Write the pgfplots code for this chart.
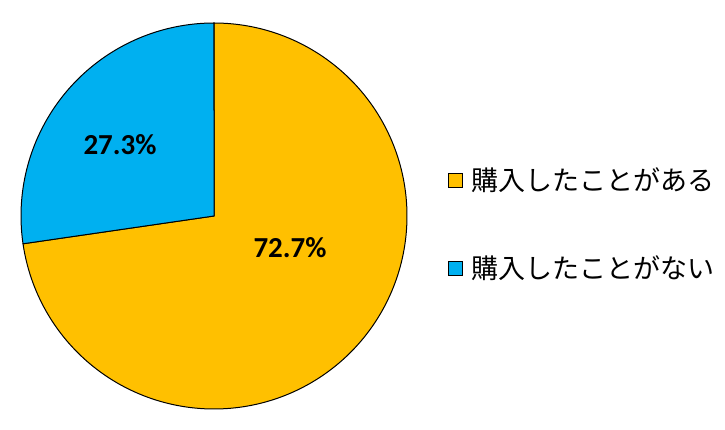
\documentclass[border=0pt]{standalone}
\usepackage{pgfplots}
\pgfplotsset{compat=1.18}
\usepackage{fontspec}
\setmainfont{Carlito}
\newfontfamily\cjk{Noto Sans CJK JP}
\definecolor{pieorange}{HTML}{FFC000}
\definecolor{pieblue}{HTML}{00B0F0}
\begin{document}
\begin{tikzpicture}
% data: share (%) of each category
\def\valA{72.7}
\def\valB{27.3}
\pgfmathsetmacro{\angStart}{90}
\pgfmathsetmacro{\angMid}{90-3.6*\valA}
\pgfmathsetmacro{\angEnd}{\angMid-3.6*\valB}
\begin{axis}[
  width=725pt, height=430pt, scale only axis,
  xmin=0, xmax=725, ymin=0, ymax=430,
  hide axis, clip=false,
]
\path (axis cs:0,0) rectangle (axis cs:725,430);
\addplot[fill=pieorange, draw=black, line width=1pt, domain=\angStart:\angMid, samples=200]
  ({214+193*cos(x)},{214+193*sin(x)}) -- (axis cs:214,214) -- cycle;
\addplot[fill=pieblue, draw=black, line width=1pt, domain=\angMid:\angEnd, samples=100]
  ({214+193*cos(x)},{214+193*sin(x)}) -- (axis cs:214,214) -- cycle;
\node[font=\fontsize{29}{34}\selectfont\bfseries] at (axis cs:290,182) {72.7\%};
\node[font=\fontsize{29}{34}\selectfont\bfseries] at (axis cs:120,285) {27.3\%};
\node[draw=black, fill=pieorange, minimum size=14pt, inner sep=0pt, line width=0.8pt] at (axis cs:455,250) {};
\node[draw=black, fill=pieblue, minimum size=14pt, inner sep=0pt, line width=0.8pt] at (axis cs:455,162) {};
\node[anchor=west, font=\cjk\fontsize{27}{32}\selectfont, inner sep=0pt] at (axis cs:471,250) {購入したことがある};
\node[anchor=west, font=\cjk\fontsize{27}{32}\selectfont, inner sep=0pt] at (axis cs:471,162) {購入したことがない};
\end{axis}
\end{tikzpicture}
\end{document}
